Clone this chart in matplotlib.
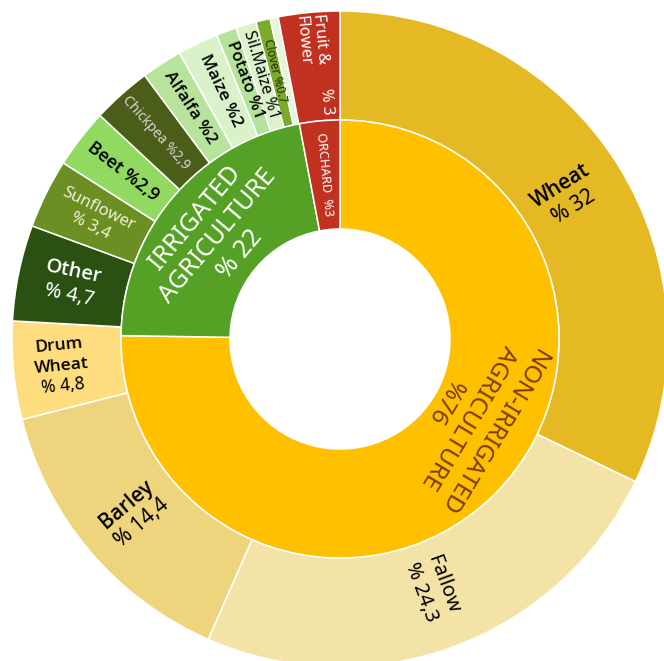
import numpy as np
import matplotlib.pyplot as plt

plt.rcParams['font.family'] = ['Noto Sans', 'DejaVu Sans']

# Land use shares (%), clockwise from 12 o'clock
outer_names = ["Wheat", "Fallow", "Barley", "Drum Wheat", "Other", "Sunflower", "Beet",
               "Chickpea", "Alfalfa", "Maize", "Potato", "Sil.Maize", "Clover", "Misc", "Fruit & Flower"]
outer_values = [32, 24.3, 14.4, 4.8, 4.7, 3.4, 2.9, 2.9, 2, 2, 1, 1, 0.7, 0.4, 3]
outer_labels = ["Wheat\n% 32", "Fallow\n% 24,3", "Barley\n% 14,4", "Drum\nWheat\n% 4,8",
                "Other\n% 4,7", "Sunflower\n% 3,4", "Beet %2,9", "Chickpea %2,9", "Alfalfa %2",
                "Maize %2", "Potato %1", "Sil.Maize %1", "Clover %0.7", "", "Fruit &      % 3\nFlower"]

inner_names = ["Non-irrigated", "Irrigated", "Orchard"]
inner_values = [76, 22, 3]
inner_labels = ["NON-IRRIGATED\nAGRICULTURE\n%76", "IRRIGATED\nAGRICULTURE\n% 22", "ORCHARD  %3"]

outer_colors = ["#e4b923", "#f4e3a6", "#eed57d", "#fedd7e", "#2a5112", "#6b8f22", "#92d962",
                "#4b5e19", "#b7e39c", "#daf2ca", "#b5e39b", "#dbf2cb", "#7aab2a", "#e6f5d9", "#c1311f"]
inner_colors = ["#ffc000", "#55a125", "#c1311f"]

# text style per segment: size, colour, weight of each line, radius, angle override
outer_style = {
    "Wheat": (15, "black", ["semibold", "normal"], 268, None),
    "Fallow": (14.5, "black", ["normal", "normal"], 266, None),
    "Barley": (15, "black", ["semibold", "normal"], 270, None),
    "Drum Wheat": (12.5, "black", ["semibold", "semibold", "normal"], 280, None),
    "Other": (14.5, "white", ["semibold", "normal"], 274, None),
    "Sunflower": (12, "#f3f0d6", ["normal", "normal"], 274, None),
    "Beet": (13, "black", ["semibold"], 274, None),
    "Chickpea": (10, "#d5d5d5", ["normal"], 276, None),
    "Alfalfa": (12.5, "black", ["semibold"], 276, None),
    "Maize": (12.5, "black", ["semibold"], 276, None),
    "Potato": (12, "black", ["semibold"], 276, None),
    "Sil.Maize": (11.5, "black", ["normal"], 276, None),
    "Clover": (8.5, "#1f2a05", ["normal"], 276, None),
    "Misc": (8, "black", ["normal"], 276, None),
    "Fruit & Flower": (11.5, "white", ["normal", "normal"], 280, None),
}
inner_style = {
    "Non-irrigated": (17.5, "#7b3c00", ["normal"] * 3, 150, 121),
    "Irrigated": (18, "white", ["normal"] * 3, 160, None),
    "Orchard": (9, "white", ["normal"], 165, None),
}

cx, cy = 340, 322
r_out, r_mid, r_in = 328, 219, 110

fig = plt.figure(figsize=(6.64, 6.61), dpi=100)
ax = fig.add_axes([0, 0, 1, 1])

wedge = dict(edgecolor="white", linewidth=1.1)
ax.pie(outer_values, colors=outer_colors, radius=r_out, center=(cx, cy), startangle=90,
       counterclock=False, wedgeprops=dict(width=r_out - r_mid, **wedge))
ax.pie(inner_values, colors=inner_colors, radius=r_mid, center=(cx, cy), startangle=90,
       counterclock=False, wedgeprops=dict(width=r_mid - r_in, **wedge))
ax.set_xlim(0, 664)
ax.set_ylim(0, 661)
ax.set_aspect('equal')
ax.axis('off')


def mid_angles(values):
    v = np.asarray(values, dtype=float)
    edges = np.concatenate([[0], np.cumsum(v)]) / v.sum() * 360
    return (edges[:-1] + edges[1:]) / 2


def radial_rot(theta):
    rot = 90 - theta
    while rot > 90:
        rot -= 180
    while rot < -90:
        rot += 180
    return rot


def tangent_rot(theta):
    rot = -theta
    while rot <= -180:
        rot += 360
    return rot


def put(theta, r, text, rot, size, color, weights):
    # each line drawn on its own so name and value can differ in weight
    t = np.deg2rad(theta)
    x0, y0 = cx + r * np.sin(t), cy + r * np.cos(t)
    lines = text.split("\n")
    step = size * 100 / 72 * 1.15
    a = np.deg2rad(rot)
    down = np.array([np.sin(a), -np.cos(a)])
    left_align = "&" in text
    for i, (line, w) in enumerate(zip(lines, weights)):
        off = (i - (len(lines) - 1) / 2) * step
        x, y = x0 + off * down[0], y0 + off * down[1]
        ha = "center"
        if left_align:
            # shift anchor back along the reading direction so lines start together
            half = 46
            x -= half * np.cos(a)
            y -= half * np.sin(a)
            ha = "left"
        fam = ['Open Sans', 'DejaVu Sans'] if w != "normal" else ['Noto Sans', 'DejaVu Sans']
        ax.text(x, y, line, rotation=rot, rotation_mode='anchor', ha=ha, va='center',
                fontsize=size, color=color, fontweight=w, family=fam)


for name, lab, th in zip(outer_names, outer_labels, mid_angles(outer_values)):
    if not lab:
        continue
    size, color, weights, r, over = outer_style[name]
    th = over if over is not None else th
    put(th, r, lab, radial_rot(th), size, color, weights)

for name, lab, th in zip(inner_names, inner_labels, mid_angles(inner_values)):
    size, color, weights, r, over = inner_style[name]
    th = over if over is not None else th
    rot = radial_rot(th) if name == "Orchard" else tangent_rot(th)
    put(th, r, lab, rot, size, color, weights)

fig.savefig("out.png", dpi=100)
